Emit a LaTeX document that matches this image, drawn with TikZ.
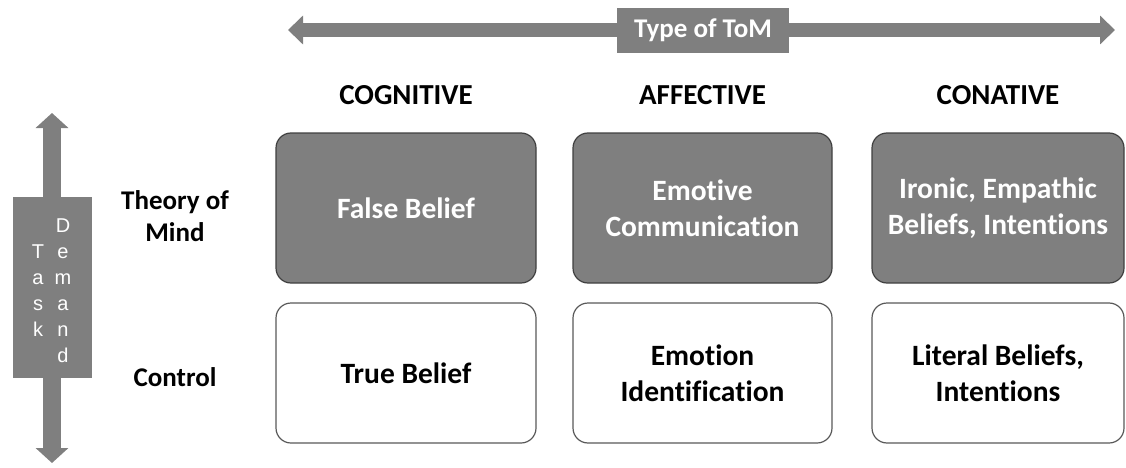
\documentclass[tikz,border=0pt]{standalone}
\usepackage{fontspec}
\setmainfont{Carlito}[Ligatures=NoCommon]
\newfontfamily\arialfont{Liberation Sans}
\usetikzlibrary{arrows.meta}
\definecolor{tgray}{HTML}{7F7F7F}
\definecolor{tborder}{HTML}{404040}
\definecolor{lborder}{HTML}{595959}
\begin{document}
\begin{tikzpicture}[x=1pt,y=-1pt,
  cell/.style={line width=1.2pt, rounded corners=15pt, align=center, inner sep=0pt,
    font=\bfseries\fontsize{29.5}{36}\selectfont},
  darkcell/.style={cell, draw=tborder, fill=tgray, text=white, minimum height=150pt},
  lightcell/.style={cell, draw=lborder, fill=white, text=black, minimum height=140pt},
  header/.style={font=\bfseries\fontsize{29}{34}\selectfont, anchor=base},
  rowlabel/.style={font=\bfseries\fontsize{27}{32}\selectfont, align=center},
  axisarrow/.style={draw=tgray, line width=14pt,
    {Triangle[width=28pt,length=15pt,fill=tgray]}-{Triangle[width=28pt,length=15pt,fill=tgray]}},
  axisbox/.style={fill=tgray, inner sep=0pt},
  letters/.style={font=\arialfont\fontsize{20}{26}\selectfont, text=white, align=center, inner sep=0pt}
]
\useasboundingbox (0,0) rectangle (1126,468);

% top axis
\coordinate (tl) at (288,30);
\coordinate (tr) at (1115,30);
\draw[axisarrow] (tl) -- (tr);
\node[axisbox, minimum width=172pt, minimum height=45pt, text=white,
  font=\bfseries\fontsize{27}{30}\selectfont] (type) at (703,30.5) {Type of ToM};

% left axis
\coordinate (vt) at (52,113);
\coordinate (vb) at (52,463);
\draw[axisarrow, line width=18pt,
  {Triangle[width=32pt,length=15pt,fill=tgray]}-{Triangle[width=32pt,length=15pt,fill=tgray]}] (vt) -- (vb);
\node[axisbox, minimum width=79pt, minimum height=181pt] (task) at (52.5,287.5) {};
\node[letters] (taskw) at (38,291) {T\\a\\s\\k};
\node[letters] (demw) at (63,291) {D\\e\\m\\a\\n\\d};

% headers
\node[header] (hcog) at (406,105) {COGNITIVE};
\node[header] (haff) at (702.5,105) {AFFECTIVE};
\node[header] (hcon) at (998,105) {CONATIVE};

% row labels
\node[rowlabel] (rtom) at (175,216) {Theory of\\Mind};
\node[rowlabel] (rctl) at (175,377) {Control};

% cells
\node[darkcell, minimum width=260pt] (c11) at (406,208) {False Belief};
\node[darkcell, minimum width=259pt] (c12) at (702.5,208) {Emotive\\Communication};
\node[darkcell, minimum width=252pt] (c13) at (998,208) {Ironic, Empathic\\Beliefs, Intentions};
\node[lightcell, minimum width=260pt] (c21) at (406,373) {True Belief};
\node[lightcell, minimum width=259pt] (c22) at (702.5,373) {Emotion\\Identification};
\node[lightcell, minimum width=252pt] (c23) at (998,373) {Literal Beliefs,\\Intentions};
\end{tikzpicture}
\end{document}
